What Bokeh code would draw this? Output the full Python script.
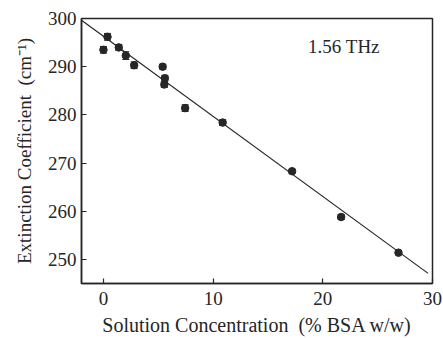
from bokeh.plotting import figure
from bokeh.models import ColumnDataSource, Whisker, Range1d, FixedTicker, Label
from bokeh.embed import file_html
from bokeh.resources import INLINE

# Data
conc = [0.0, 0.37, 1.4, 2.04, 2.8, 5.4, 5.6, 5.55, 7.45, 10.87, 17.2, 21.67, 26.9]
ext = [293.5, 296.2, 294.0, 292.3, 290.3, 290.0, 287.6, 286.3, 281.4, 278.4, 268.3, 258.8, 251.4]
err = [0.7, 0.7, 0.6, 0.8, 0.7, 0.5, 0.6, 0.6, 0.7, 0.6, 0.4, 0.5, 0.4]
fit_x = [-2.0, 29.6]
fit_y = [299.65, 247.1]
x_ticks = [0, 10, 20, 30]
y_ticks = [250, 260, 270, 280, 290, 300]

FONT = "Liberation Serif"
INK = "#262626"

p = figure(width=443, height=338, output_backend="svg", toolbar_location=None,
           x_range=Range1d(-2, 30), y_range=Range1d(245, 300),
           min_border_left=81, min_border_right=11, min_border_top=18, min_border_bottom=52)
p.grid.visible = False
p.outline_line_color = INK
p.outline_line_width = 1.5
p.background_fill_color = "white"
p.border_fill_color = "white"

lower = [v - e for v, e in zip(ext, err)]
upper = [v + e for v, e in zip(ext, err)]
src = ColumnDataSource(dict(x=conc, y=ext, lower=lower, upper=upper))

p.line(fit_x, fit_y, line_color=INK, line_width=1.2)
w = Whisker(source=src, base="x", lower="lower", upper="upper", dimension="height",
            line_color=INK, line_width=1.2)
w.upper_head.size = 7
w.lower_head.size = 7
w.upper_head.line_color = INK
w.lower_head.line_color = INK
p.add_layout(w)
p.scatter("x", "y", source=src, size=7.5, fill_color=INK, line_color=INK)

for ax in (p.xaxis[0], p.yaxis[0]):
    ax.axis_line_color = INK
    ax.axis_line_width = 1.5
    ax.major_tick_in = 5
    ax.major_tick_out = 0
    ax.minor_tick_line_color = None
    ax.major_tick_line_color = INK
    ax.major_tick_line_width = 1.2
    ax.major_label_text_font = FONT
    ax.major_label_text_font_size = "19px"
    ax.major_label_text_color = INK
    ax.axis_label_text_font = FONT
    ax.axis_label_text_font_size = "19px"
    ax.axis_label_text_font_style = "normal"
    ax.axis_label_text_color = INK

p.xaxis.ticker = FixedTicker(ticks=x_ticks)
p.yaxis.ticker = FixedTicker(ticks=y_ticks)
p.xaxis.axis_label = "Solution Concentration\u00a0\u00a0(% BSA w/w)"
p.yaxis.axis_label = "Extinction Coefficient\u00a0\u00a0(cm\u207b\u00b9)"
p.xaxis.axis_label_text_font_size = "20px"
p.xaxis.major_label_standoff = 8
p.xaxis.axis_label_standoff = 6
p.yaxis.major_label_standoff = 5
p.yaxis.axis_label_standoff = 10

p.add_layout(Label(x=18.66, y=294.2, text="1.56 THz", text_font=FONT,
                   text_font_size="19px", text_color=INK, text_baseline="middle",
                   text_align="left"))

open("out.html", "w").write(file_html(p, INLINE))
